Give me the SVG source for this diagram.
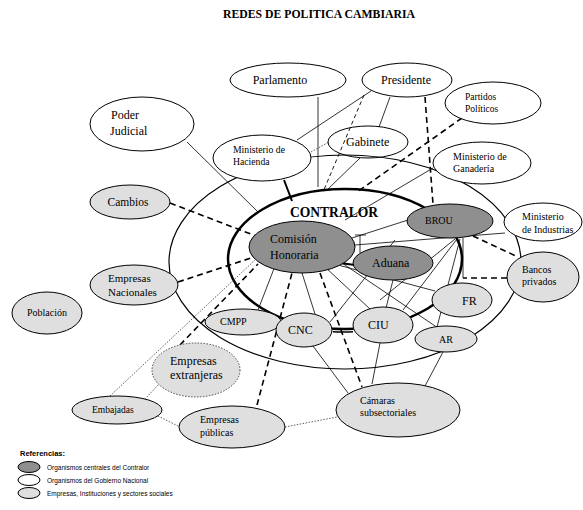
<svg xmlns="http://www.w3.org/2000/svg" width="583" height="510" viewBox="0 0 583 510">
<style>
.t{font-family:"Liberation Serif","Times New Roman",serif;fill:#000}
.lg{font-family:"Liberation Sans",Arial,sans-serif;fill:#000}
.w{fill:#fff;stroke:#000;stroke-width:1}
.d{fill:#8f8f8f;stroke:#000;stroke-width:1}
.g{fill:#dfdfdf;stroke:#000;stroke-width:1}
.s{stroke:#000;stroke-width:0.8;fill:none}
.dh{stroke:#000;stroke-width:1.6;fill:none;stroke-dasharray:6 4}
.dn{stroke:#000;stroke-width:0.9;fill:none;stroke-dasharray:4 3}
.dt{stroke:#333;stroke-width:0.8;fill:none;stroke-dasharray:1.5 1.5}
</style>
<rect width="583" height="510" fill="#fff"/>
<text class="t" x="319" y="18" font-size="12.5" font-weight="bold" text-anchor="middle" textLength="192" lengthAdjust="spacingAndGlyphs">REDES DE POLITICA CAMBIARIA</text>

<g id="rings">
<ellipse cx="345" cy="262" rx="176" ry="107" fill="none" stroke="#000" stroke-width="1.2"/>
<ellipse cx="345" cy="259" rx="117" ry="70" fill="none" stroke="#000" stroke-width="2.5"/>
<path d="M333,330.5 Q343,331 353,330.5" fill="none" stroke="#000" stroke-width="4"/>
<path d="M333,330.5 Q343,331 353,330.5" fill="none" stroke="#fff" stroke-width="1.2"/>
</g>

<g id="connectors">
<line class="s" x1="318" y1="97" x2="318" y2="187" stroke="#777"/>
<line class="s" x1="371" y1="91" x2="297" y2="140"/>
<line class="s" x1="390" y1="97" x2="379" y2="127"/>
<line class="dn" x1="364" y1="95" x2="323" y2="192"/>
<line class="dh" x1="425" y1="97" x2="433" y2="204"/>
<line class="dh" x1="462" y1="118" x2="357" y2="192"/>
<line x1="284" y1="180" x2="292" y2="201" stroke="#000" stroke-width="2"/>
<line class="dt" x1="311" y1="152" x2="329" y2="142"/>
<line class="s" x1="360" y1="158" x2="327" y2="190"/>
<line class="s" x1="187" y1="142" x2="258" y2="212"/>
<line class="dh" x1="170" y1="203" x2="256" y2="236"/>
<line class="dh" x1="178" y1="282" x2="254" y2="257"/>
<line class="dt" x1="110" y1="396" x2="255" y2="260"/>
<line class="dh" x1="180" y1="345" x2="258" y2="264"/>
<line class="dt" x1="160" y1="383" x2="143" y2="401"/>
<line class="dt" x1="158" y1="416" x2="182" y2="428"/>
<line class="dh" x1="257" y1="405" x2="292" y2="273"/>
<line class="dt" x1="285" y1="427" x2="337" y2="417"/>
<line class="s" x1="275" y1="266" x2="258" y2="310"/>
<line class="s" x1="302" y1="273" x2="315" y2="314"/>
<line class="dh" x1="320" y1="273" x2="362" y2="387"/>
<line class="s" x1="325" y1="267" x2="370" y2="309"/>
<line class="s" x1="338" y1="265" x2="435" y2="291"/>
<line class="s" x1="342" y1="263" x2="438" y2="328"/>
<line class="s" x1="352" y1="238" x2="408" y2="220"/>
<line class="s" x1="355" y1="245" x2="505" y2="233"/>
<line class="s" x1="360" y1="235" x2="360" y2="253" stroke-width="1.4"/>
<line class="s" x1="355" y1="235" x2="366" y2="235" stroke-width="1.4"/>
<line x1="340" y1="263" x2="355" y2="265" stroke="#000" stroke-width="2"/>
<line class="s" x1="433" y1="168" x2="345" y2="220"/>
<line class="s" x1="395" y1="240" x2="330" y2="322"/>
<line class="s" x1="455" y1="239" x2="380" y2="300"/>
<line class="s" x1="457" y1="239" x2="403" y2="310"/>
<line class="s" x1="460" y1="239" x2="437" y2="327"/>
<line class="s" x1="393" y1="280" x2="386" y2="308"/>
<line class="dh" x1="473" y1="236" x2="516" y2="256"/>
<line class="dh" x1="507" y1="278" x2="463" y2="278"/>
<line class="s" x1="463" y1="278" x2="463" y2="238"/>
<line class="s" x1="313" y1="346" x2="348" y2="393"/>
<line class="s" x1="380" y1="343" x2="372" y2="384"/>
<line class="s" x1="443" y1="352" x2="425" y2="386"/>
</g>

<g id="parlamento"><ellipse class="w" cx="288" cy="80" rx="58" ry="17"/><text class="t" x="280" y="84" font-size="12" text-anchor="middle">Parlamento</text></g>
<g id="presidente"><ellipse class="w" cx="407" cy="80" rx="45" ry="17"/><text class="t" x="406" y="84" font-size="12" text-anchor="middle">Presidente</text></g>
<g id="partidos"><ellipse class="w" cx="493" cy="103" rx="48" ry="21"/><text class="t" x="465" y="100" font-size="9.5">Partidos</text><text class="t" x="465" y="112" font-size="9.5">Políticos</text></g>
<g id="poder-judicial"><ellipse class="w" cx="142" cy="124" rx="52" ry="27"/><text class="t" x="111" y="119" font-size="12">Poder</text><text class="t" x="110" y="135" font-size="12">Judicial</text></g>
<g id="hacienda"><ellipse class="w" cx="262" cy="158" rx="49" ry="23"/><text class="t" x="233" y="153" font-size="9.7">Ministerio de</text><text class="t" x="233" y="165" font-size="9.7">Hacienda</text></g>
<g id="gabinete"><ellipse cx="368" cy="142" rx="40" ry="16" fill="none" stroke="#000"/><text class="t" x="346" y="146" font-size="12">Gabinete</text></g>
<g id="ganaderia"><ellipse class="w" cx="482" cy="163" rx="49" ry="21"/><text class="t" x="453" y="160" font-size="10">Ministerio de</text><text class="t" x="453" y="172" font-size="10">Ganadería</text></g>
<g id="cambios"><ellipse class="g" cx="130" cy="202" rx="40" ry="17"/><text class="t" x="128" y="206" font-size="11.5" text-anchor="middle">Cambios</text></g>
<g id="contralor"><text class="t" x="290" y="217" font-size="14.5" font-weight="bold" textLength="88" lengthAdjust="spacingAndGlyphs">CONTRALOR</text></g>
<g id="comision"><ellipse class="d" cx="302" cy="247" rx="53" ry="26"/><text class="t" x="270" y="243" font-size="12">Comisión</text><text class="t" x="270" y="259" font-size="12">Honoraria</text></g>
<g id="brou"><ellipse class="d" cx="450" cy="221" rx="43" ry="17"/><text class="t" x="425" y="224" font-size="10">BROU</text></g>
<g id="aduana"><ellipse class="d" cx="393" cy="263" rx="40" ry="17"/><text class="t" x="372" y="267" font-size="12">Aduana</text></g>
<g id="industrias"><ellipse class="w" cx="543" cy="222" rx="39" ry="19"/><text class="t" x="522" y="220" font-size="10">Ministerio</text><text class="t" x="522" y="233" font-size="10">de Industrias</text></g>
<g id="bancos"><ellipse class="g" cx="543" cy="277" rx="36" ry="25"/><text class="t" x="522" y="273" font-size="10">Bancos</text><text class="t" x="522" y="285" font-size="10">privados</text></g>
<g id="empresas-nacionales"><ellipse class="g" cx="134" cy="285" rx="44" ry="20"/><text class="t" x="108" y="282" font-size="11">Empresas</text><text class="t" x="108" y="296" font-size="11">Nacionales</text></g>
<g id="poblacion"><ellipse class="g" cx="47" cy="313" rx="35" ry="21"/><text class="t" x="47" y="316" font-size="10" text-anchor="middle">Población</text></g>
<g id="cmpp"><ellipse class="g" cx="243" cy="322" rx="38" ry="13"/><text class="t" x="220" y="325" font-size="10">CMPP</text></g>
<g id="cnc"><ellipse class="g" cx="304" cy="330" rx="28" ry="17"/><text class="t" x="288" y="334" font-size="12">CNC</text></g>
<g id="ciu"><ellipse class="g" cx="383" cy="325" rx="30" ry="18"/><text class="t" x="368" y="329" font-size="12">CIU</text></g>
<g id="fr"><ellipse class="g" cx="462" cy="300" rx="30" ry="17"/><text class="t" x="462" y="305" font-size="12">FR</text></g>
<g id="ar"><ellipse class="g" cx="446" cy="339" rx="31" ry="13"/><text class="t" x="439" y="343" font-size="10">AR</text></g>
<g id="empresas-extranjeras"><ellipse cx="196" cy="370" rx="44" ry="27" fill="#dfdfdf" stroke="#333" stroke-width="0.9" stroke-dasharray="1.5 1.5"/><text class="t" x="170" y="365" font-size="12">Empresas</text><text class="t" x="170" y="379" font-size="12">extranjeras</text></g>
<g id="embajadas"><ellipse class="g" cx="117" cy="410" rx="45" ry="14"/><text class="t" x="92" y="413" font-size="9.5">Embajadas</text></g>
<g id="empresas-publicas"><ellipse class="g" cx="232" cy="427" rx="53" ry="21"/><text class="t" x="200" y="423" font-size="10">Empresas</text><text class="t" x="200" y="436" font-size="10">públicas</text></g>
<g id="camaras"><ellipse class="g" cx="398" cy="410" rx="62" ry="27"/><text class="t" x="360" y="404" font-size="10">Cámaras</text><text class="t" x="360" y="416" font-size="10">subsectoriales</text></g>

<g id="legend">
<text class="lg" x="20" y="456" font-size="7.5" font-weight="bold">Referencias:</text>
<ellipse class="d" cx="29" cy="467" rx="11" ry="5.5"/>
<text class="lg" x="47" y="470" font-size="6.5">Organismos centrales del Contralor</text>
<ellipse class="w" cx="29" cy="480" rx="11" ry="5.5"/>
<text class="lg" x="47" y="483" font-size="6.5">Organismos del Gobierno Nacional</text>
<ellipse class="g" cx="29" cy="493" rx="11" ry="5.5"/>
<text class="lg" x="47" y="496" font-size="6.5">Empresas, Instituciones y sectores sociales</text>
</g>
</svg>
